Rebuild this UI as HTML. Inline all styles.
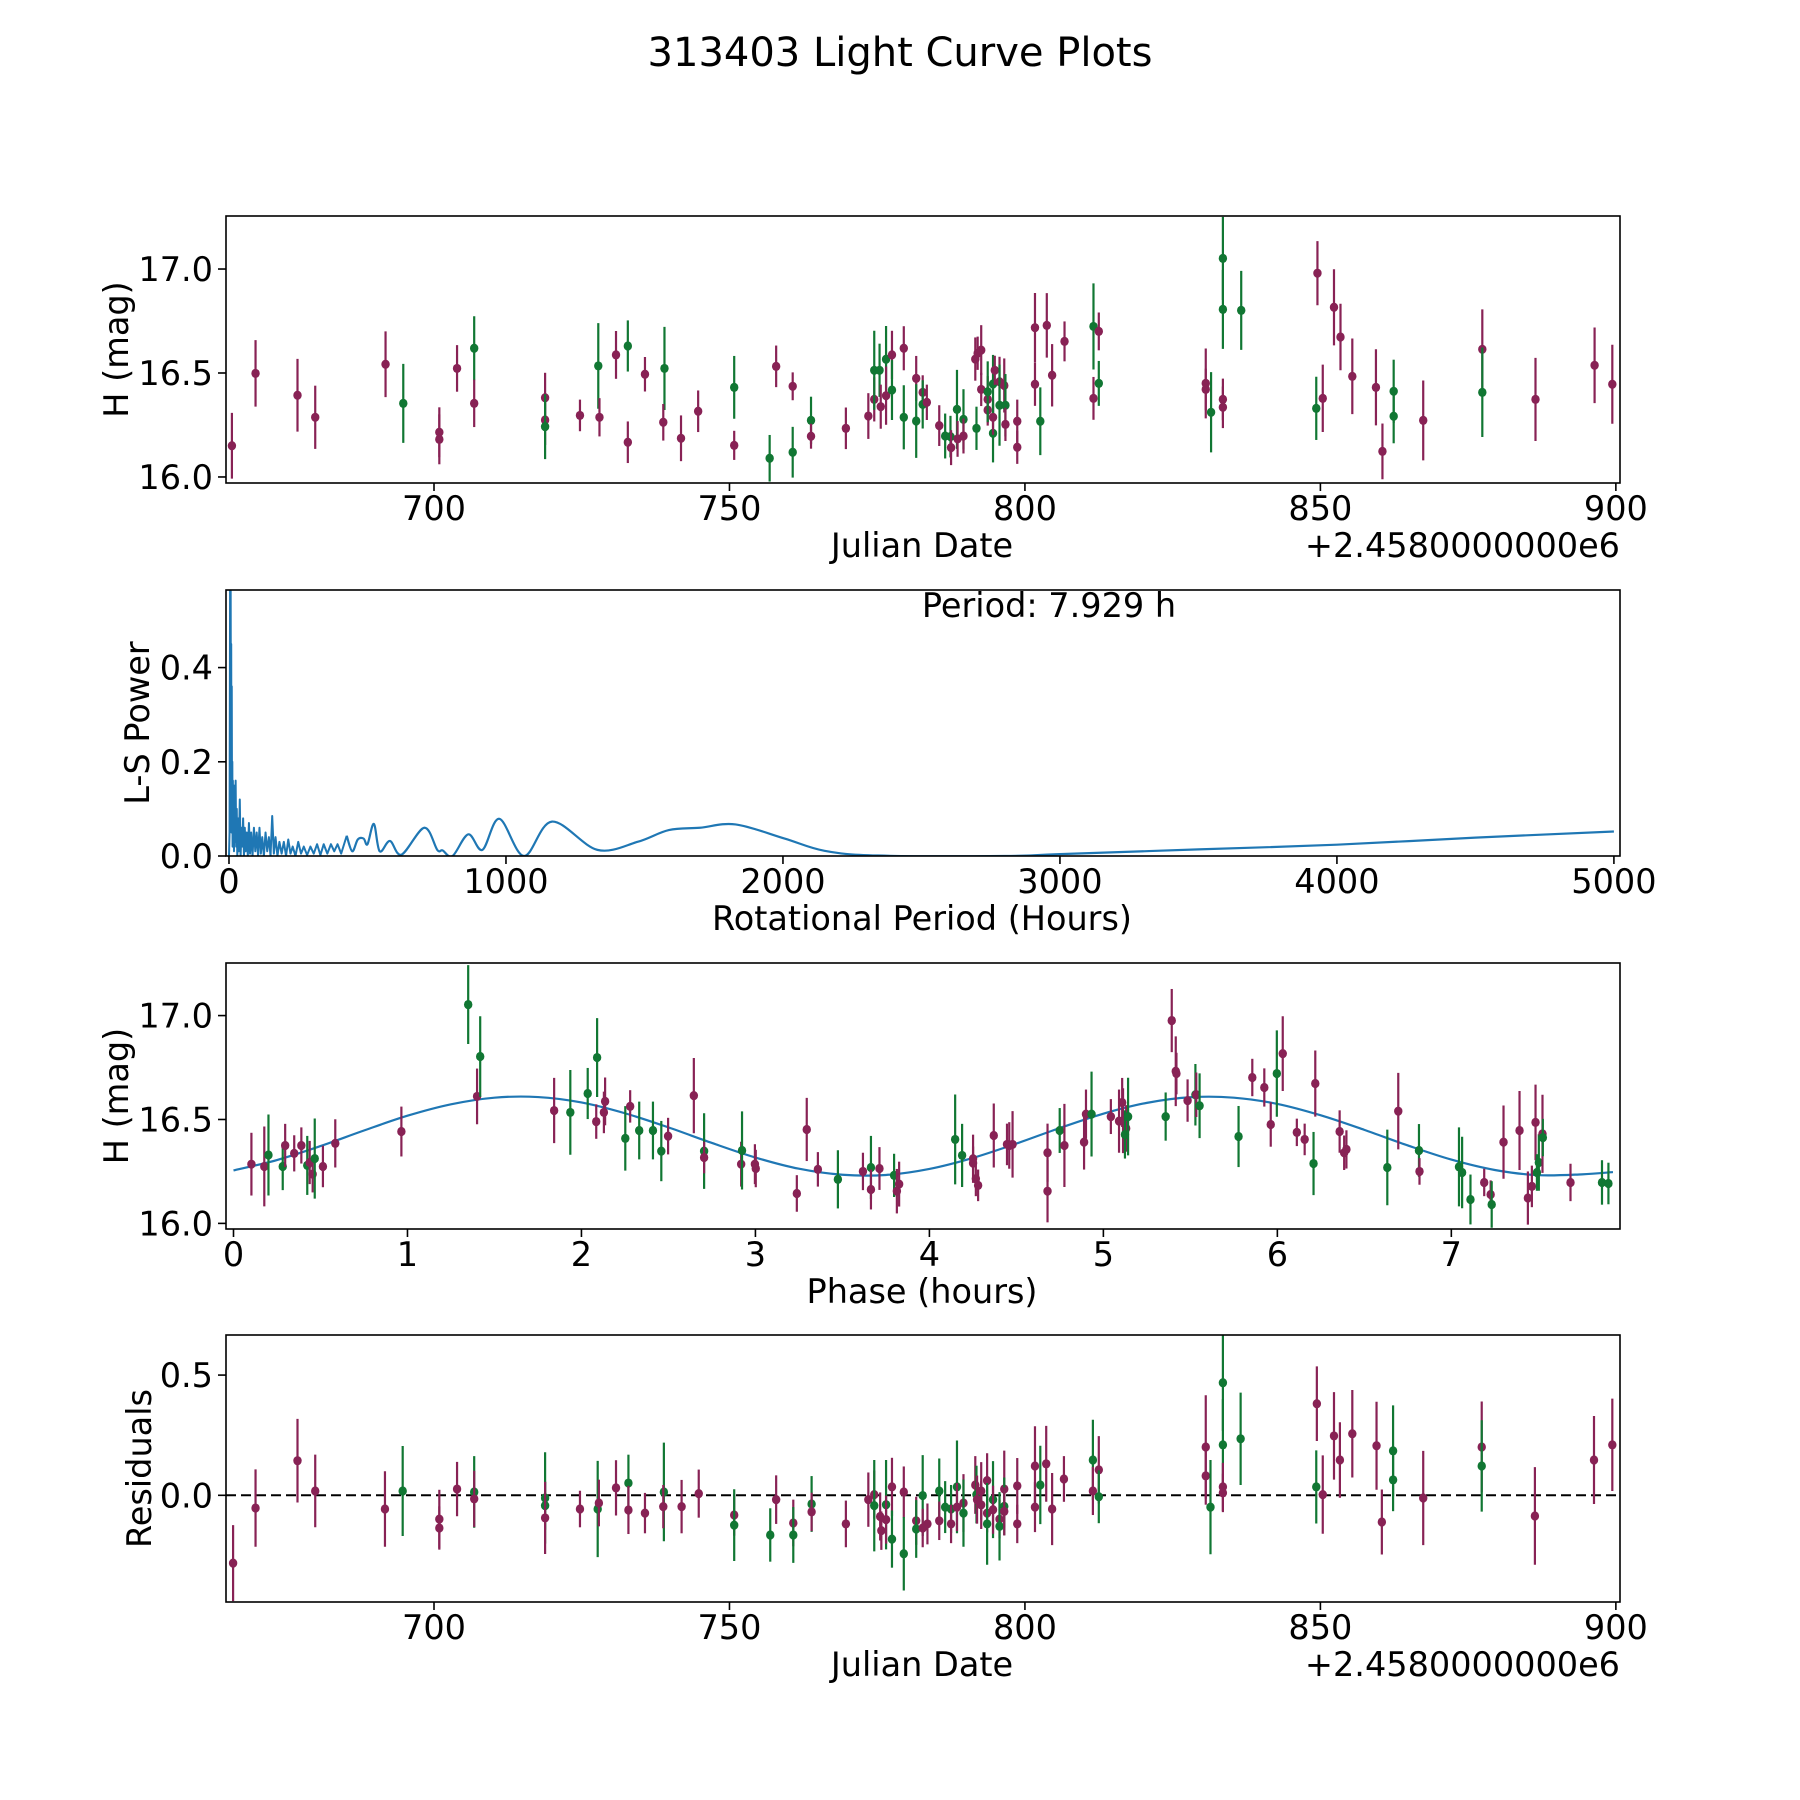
<!DOCTYPE html>
<html><head><meta charset="utf-8"><title>313403 Light Curve Plots</title>
<style>
html,body{margin:0;padding:0;background:#fff;}
svg{display:block;font-family:"DejaVu Sans","Liberation Sans",sans-serif;}
</style></head>
<body>
<svg id="fig" width="1800" height="1800" viewBox="0 0 1800 1800" xmlns="http://www.w3.org/2000/svg">
<rect x="0" y="0" width="1800" height="1800" fill="#fff"/>
<text x="900" y="66" font-size="40" text-anchor="middle" fill="#000">313403 Light Curve Plots</text>
</svg>
<script>
// ---- Panel 1: light curve (Julian date) ----
const lcDays=[665.8,669.8,676.9,679.9,691.8,694.8,700.9,700.9,703.9,706.8,706.8,718.8,718.8,718.8,724.7,727.8,728.0,730.8,732.8,732.8,735.7,739.0,738.8,741.8,744.7,750.8,750.8,756.8,757.9,760.7,760.7,763.8,763.8,769.7,
773.5,774.5,774.5,775.4,775.6,776.5,776.5,777.5,777.5,779.5,779.5,781.6,781.6,782.7,782.7,783.4,785.5,786.5,787.4,787.5,788.5,788.6,789.6,789.6,791.6,791.8,792.0,792.6,792.6,793.7,793.7,793.7,794.6,794.6,794.6,794.9,795.7,795.7,796.5,796.7,796.7,798.7,798.7,801.7,801.7,802.6,803.7,804.6,806.7,811.6,811.6,812.5,812.5,830.6,830.6,831.5,833.5,833.5,833.5,833.5,836.6,849.3,849.5,850.4,852.3,853.4,855.4,859.4,860.5,862.4,862.4,867.4,877.4,877.4,886.4,896.4,899.4];
const lcMags=[16.15,16.498,16.393,16.287,16.542,16.354,16.215,16.181,16.522,16.619,16.354,16.381,16.274,16.242,16.296,16.534,16.287,16.587,16.63,16.167,16.494,16.522,16.263,16.186,16.316,16.431,16.152,16.09,16.532,16.436,16.119,16.272,16.196,16.234,
16.293,16.373,16.513,16.513,16.338,16.566,16.391,16.587,16.418,16.619,16.287,16.474,16.269,16.407,16.349,16.359,16.247,16.197,16.194,16.141,16.325,16.183,16.277,16.197,16.567,16.234,16.595,16.61,16.421,16.373,16.322,16.41,16.21,16.287,16.447,16.513,16.458,16.345,16.44,16.345,16.253,16.268,16.143,16.718,16.446,16.268,16.729,16.489,16.652,16.724,16.378,16.7,16.45,16.45,16.421,16.311,17.051,16.806,16.373,16.335,16.801,16.33,16.98,16.378,16.816,16.673,16.484,16.431,16.123,16.412,16.292,16.272,16.614,16.407,16.373,16.537,16.446];
const lcErrs=[0.158,0.16,0.175,0.152,0.158,0.19,0.12,0.12,0.112,0.154,0.114,0.12,0.12,0.156,0.076,0.206,0.092,0.115,0.123,0.1,0.083,0.2,0.088,0.11,0.1,0.151,0.07,0.112,0.1,0.067,0.122,0.114,0.06,0.1,
0.11,0.106,0.19,0.128,0.106,0.16,0.14,0.116,0.144,0.106,0.154,0.108,0.177,0.082,0.116,0.085,0.098,0.108,0.1,0.084,0.19,0.086,0.145,0.084,0.104,0.104,0.08,0.12,0.08,0.112,0.075,0.146,0.14,0.084,0.14,0.07,0.12,0.195,0.13,0.15,0.08,0.104,0.08,0.167,0.104,0.163,0.155,0.15,0.096,0.207,0.103,0.091,0.108,0.168,0.1,0.193,0.2,0.19,0.1,0.1,0.19,0.152,0.154,0.162,0.183,0.16,0.182,0.183,0.134,0.152,0.13,0.192,0.192,0.215,0.2,0.182,0.19];
const lcBand=[0,0,0,0,0,1,0,0,0,1,0,0,0,1,0,1,0,0,1,0,0,1,0,0,0,1,0,1,0,0,1,1,0,0,
0,0,1,1,0,1,0,0,1,0,1,0,1,0,1,0,0,1,1,0,1,0,1,0,0,1,0,0,0,0,0,1,1,0,1,0,0,1,0,1,0,0,0,0,0,1,0,0,0,1,0,0,1,0,0,1,1,1,0,0,1,1,0,0,0,0,0,0,0,1,1,0,0,1,0,0,0];

// ---- Panel 2: Lomb-Scargle periodogram ----
const lsPeriods=[0,2,4,5,6,7,8,9,10,11,12,13,14,15,17,18,20,22,24,26,28,30,33,36,39,42,45,48,51,54,57,60,64,68,72,76,80,85,90,95,100,105,110,115,120,126,132,138,144,150,156,162,168,175,182,190,198,206,214,222,230,240,250,260,270,282,294,306,318,330,342,355,368,380,392,405,
425,445,465,486,500,523,544,581,623,705,752,771,807,864,915,976,1065,1166,1330,1475,1588,1700,1829,2006,2150,2343,2800,3000,3500,4000,4500,5000];
const lsPower=[0,0.05,0.58,0.1,0.6,0.2,0.45,0.05,0.36,0.08,0.2,0.02,0.16,0.05,0.15,0.01,0.12,0.03,0.16,0.02,0.1,0,0.08,0.01,0.12,0,0.06,0.02,0.08,0,0.06,0.01,0.05,0,0.07,0.005,0.05,0,0.06,0.01,0.05,0,0.06,0.005,0.04,0,0.05,0.01,0.04,0,0.085,0.005,0.04,0,0.03,0.005,0.03,0,0.035,0.005,0.02,0,0.03,0.005,0.02,0.002,0.02,0.005,0.025,0.002,0.025,0.005,0.025,0.01,0.025,0.005,
0.043,0.01,0.035,0.037,0.025,0.068,0.01,0.032,0.003,0.06,0.013,0.012,0,0.046,0.013,0.079,0,0.073,0.013,0.03,0.055,0.06,0.067,0.037,0.011,0.001,0,0.004,0.014,0.024,0.039,0.052];
const bestPeriodLabel="Period: 7.929 h";

// ---- Panel 3: phase-folded light curve ----
const phPhase=[0.103,0.177,0.201,0.283,0.297,0.349,0.39,0.424,0.438,0.455,0.467,0.514,0.585,0.965,1.349,1.4,1.418,1.843,1.936,2.036,2.09,2.085,2.129,2.136,2.252,2.28,2.332,2.411,2.459,2.498,2.646,2.705,2.705,2.918,2.923,2.997,3.002,3.238,3.295,3.359,3.474,3.618,3.664,3.664,3.713,3.797,3.813,3.826,
4.148,4.188,4.251,4.251,4.267,4.28,4.37,4.446,4.459,4.478,4.679,4.679,4.749,4.776,4.889,4.9,4.932,5.043,5.09,5.108,5.113,5.131,5.124,5.142,5.358,5.393,5.416,5.42,5.484,5.529,5.534,5.553,5.777,5.856,5.925,5.962,5.997,6.031,6.112,6.157,6.208,6.218,6.358,6.384,6.397,6.632,6.695,6.814,6.817,7.044,7.062,7.11,7.189,7.226,7.232,7.3,7.392,7.44,7.463,7.484,7.492,7.503,7.524,7.526,7.685,7.866,7.903];
const phMags=[16.285,16.274,16.329,16.274,16.375,16.337,16.375,16.279,16.293,16.237,16.312,16.274,16.385,16.442,17.053,16.611,16.803,16.543,16.534,16.625,16.798,16.49,16.534,16.587,16.409,16.563,16.447,16.447,16.348,16.42,16.615,16.348,16.317,16.285,16.351,16.285,16.264,16.144,16.452,16.26,16.212,16.25,16.269,16.163,16.264,16.231,16.155,16.189,
16.404,16.327,16.311,16.29,16.215,16.183,16.423,16.38,16.375,16.38,16.34,16.155,16.447,16.375,16.391,16.526,16.526,16.514,16.492,16.582,16.494,16.457,16.428,16.514,16.514,16.976,16.732,16.721,16.591,16.619,16.619,16.566,16.418,16.702,16.654,16.476,16.721,16.817,16.438,16.404,16.288,16.673,16.442,16.34,16.356,16.269,16.54,16.351,16.25,16.272,16.245,16.115,16.197,16.139,16.091,16.391,16.447,16.122,16.178,16.486,16.245,16.293,16.431,16.413,16.197,16.197,16.192];
const phErrs=[0.151,0.192,0.195,0.114,0.104,0.087,0.087,0.142,0.104,0.088,0.193,0.1,0.116,0.12,0.19,0.134,0.194,0.157,0.204,0.123,0.19,0.083,0.1,0.115,0.155,0.078,0.139,0.139,0.145,0.088,0.181,0.182,0.076,0.108,0.188,0.096,0.09,0.088,0.152,0.083,0.14,0.09,0.152,0.096,0.103,0.104,0.107,0.108,
0.216,0.152,0.116,0.08,0.084,0.076,0.154,0.1,0.112,0.16,0.14,0.15,0.108,0.2,0.132,0.118,0.204,0.084,0.152,0.118,0.156,0.112,0.116,0.187,0.116,0.152,0.168,0.1,0.102,0.148,0.107,0.156,0.147,0.09,0.092,0.107,0.208,0.18,0.066,0.076,0.152,0.159,0.102,0.083,0.092,0.182,0.184,0.127,0.064,0.19,0.172,0.12,0.066,0.068,0.112,0.176,0.19,0.128,0.1,0.182,0.088,0.136,0.188,0.09,0.09,0.107,0.1];
const phBand=[0,0,1,1,0,0,0,1,0,0,1,0,0,0,1,0,1,0,1,1,1,0,0,0,1,0,1,1,1,0,0,1,0,0,1,0,0,0,0,0,1,0,1,0,0,1,0,0,
1,1,0,0,0,0,0,0,0,0,0,0,1,0,0,0,1,0,0,0,0,0,1,1,1,0,0,0,0,1,0,1,1,0,0,0,1,0,0,0,1,0,0,0,0,1,0,1,0,1,1,1,0,0,1,0,0,0,0,0,1,1,0,1,0,1,1];
// fitted model curve samples (phase hours -> mag)
const modelPhase=[0,0.25,0.5,0.75,1,1.25,1.5,1.75,2,2.25,2.5,2.75,3,3.25,3.5,3.75,4,4.25,4.5,4.75,5,5.25,5.5,5.75,6,6.25,6.5,6.75,7,7.25,7.5,7.75,7.929];
const modelMag=[16.255,16.305,16.372,16.447,16.518,16.573,16.605,16.608,16.582,16.53,16.462,16.387,16.317,16.263,16.234,16.233,16.262,16.315,16.384,16.459,16.528,16.58,16.607,16.605,16.575,16.52,16.45,16.375,16.307,16.257,16.232,16.236,16.247];

// ---- Panel 4: residuals ----
const resDays=[666.0,669.8,676.9,679.9,691.7,694.7,700.9,700.9,703.9,706.8,706.8,718.8,718.8,718.8,724.7,727.7,727.9,730.8,732.9,732.9,735.7,738.9,738.8,741.9,744.8,750.8,750.8,756.9,757.9,760.8,760.8,763.9,763.9,769.7,773.5,774.5,774.5,775.5,775.7,776.5,776.5,777.5,777.5,779.5,779.5,781.6,781.6,
782.7,782.7,783.5,785.5,785.5,786.5,787.5,787.5,788.5,788.5,789.6,789.6,791.6,791.8,791.9,792.6,792.6,793.6,793.6,793.6,794.6,794.6,795.7,795.7,796.5,796.5,796.5,798.7,798.7,801.7,801.7,802.6,803.6,804.6,806.6,811.5,811.5,812.5,812.5,830.6,830.6,831.4,833.5,833.5,833.5,833.5,836.5,849.3,849.4,850.4,852.3,853.3,855.4,859.5,860.4,862.3,862.3,867.4,877.3,877.3,886.3,896.3,899.4];
const resVals=[-0.282,-0.053,0.144,0.018,-0.057,0.018,-0.099,-0.136,0.026,0.014,-0.015,-0.011,-0.043,-0.094,-0.057,-0.057,-0.032,0.031,0.051,-0.061,-0.074,0.014,-0.047,-0.047,0.007,-0.082,-0.124,-0.165,-0.018,-0.115,-0.165,-0.036,-0.069,-0.119,-0.018,0.003,-0.043,-0.088,-0.147,-0.039,-0.101,0.035,-0.182,0.014,-0.243,-0.106,-0.14,
-0.001,-0.136,-0.119,0.018,-0.106,-0.049,-0.057,-0.119,0.035,-0.049,-0.032,-0.074,0.043,0.003,-0.018,0.018,-0.04,0.061,-0.074,-0.119,-0.018,-0.06,-0.099,-0.129,0.026,-0.046,-0.067,0.039,-0.119,0.122,-0.049,0.043,0.131,-0.057,0.068,0.147,0.018,0.106,-0.006,0.201,0.081,-0.049,0.468,0.21,0.035,0.01,0.235,0.035,0.381,0.003,0.247,0.147,0.256,0.206,-0.111,0.185,0.064,-0.011,0.201,0.122,-0.086,0.147,0.21];
const resErrs=[0.158,0.161,0.174,0.151,0.157,0.187,0.122,0.09,0.113,0.149,0.117,0.19,0.1,0.15,0.076,0.2,0.097,0.115,0.118,0.1,0.084,0.205,0.09,0.111,0.1,0.086,0.149,0.111,0.101,0.097,0.116,0.116,0.08,0.097,0.113,0.1,0.19,0.1,0.08,0.186,0.1,0.121,0.119,0.106,0.153,0.1,0.12,
0.168,0.08,0.085,0.135,0.08,0.108,0.1,0.08,0.193,0.1,0.12,0.14,0.12,0.12,0.1,0.12,0.1,0.114,0.08,0.17,0.16,0.1,0.08,0.142,0.16,0.12,0.1,0.116,0.08,0.165,0.104,0.163,0.158,0.15,0.095,0.167,0.1,0.14,0.11,0.215,0.12,0.196,0.2,0.19,0.1,0.08,0.192,0.152,0.155,0.163,0.182,0.157,0.182,0.183,0.135,0.189,0.13,0.196,0.189,0.19,0.203,0.183,0.192];
const resBand=[0,0,0,0,0,1,0,0,0,1,0,1,1,0,0,1,0,0,1,0,0,1,0,0,0,0,1,1,0,0,1,1,0,0,0,0,1,0,0,1,0,0,1,0,1,0,1,
1,0,0,1,0,1,1,0,1,0,0,1,0,1,0,0,0,0,0,1,1,0,0,1,0,1,0,0,0,0,0,1,0,0,0,1,0,0,1,0,0,1,1,1,0,0,1,1,0,0,0,0,0,0,0,1,1,0,0,1,0,0,0];

const xTicksJD=[700,750,800,850,900];
const yTicksH=[16.0,16.5,17.0];
const xTicksLS=[0,1000,2000,3000,4000,5000];
const yTicksLS=[0.0,0.2,0.4];
const xTicksPh=[0,1,2,3,4,5,6,7];
const yTicksRes=[0.0,0.5];

const NS="http://www.w3.org/2000/svg";
const svg=document.getElementById('fig');
const COL=['#882255','#117733'];
const FS=33.5;
function mk(tag,attrs,parent){const e=document.createElementNS(NS,tag);for(const k in attrs)e.setAttribute(k,attrs[k]);(parent||svg).appendChild(e);return e;}
function lin(d0,d1,r0,r1){return v=>r0+(v-d0)*(r1-r0)/(d1-d0);}
function fmt1(v){return v.toFixed(1);}

function makePanel(id,L,R,T,B,xd,yd){
  const g=mk('g',{});
  
  
  const cp=mk('clipPath',{id:'clip-'+id},g);
  mk('rect',{x:L,y:T,width:R-L,height:B-T},cp);
  const plot=mk('g',{'clip-path':'url(#clip-'+id+')'},g);
  
  
  return {g,plot,L,R,T,B,x:lin(xd[0],xd[1],L,R),y:lin(yd[0],yd[1],B,T)};
}
function frame(p){
  const r=mk('rect',{x:p.L,y:p.T,width:p.R-p.L,height:p.B-p.T,fill:'none',stroke:'#000','stroke-width':1.6},p.g);
  
  
}
function xTicks(p,ticks,fmt,name){
  ticks.forEach(t=>{
    const X=p.x(t);
    const l=mk('line',{x1:X,x2:X,y1:p.B,y2:p.B+8,stroke:'#000','stroke-width':1.6},p.g);
    
    
    const tx=mk('text',{x:X,y:p.B+37,'font-size':FS,'text-anchor':'middle'},p.g);
    tx.textContent=fmt(t);
    
    
  });
}
function yTicks(p,ticks,fmt,name){
  ticks.forEach(t=>{
    const Y=p.y(t);
    const l=mk('line',{x1:p.L-8,x2:p.L,y1:Y,y2:Y,stroke:'#000','stroke-width':1.6},p.g);
    
    
    const tx=mk('text',{x:p.L-13,y:Y+12,'font-size':FS,'text-anchor':'end'},p.g);
    tx.textContent=fmt(t);
    
    
  });
}
function label(p,text,x,y,rot,name,anchor){
  const t=mk('text',{x:x,y:y,'font-size':FS,'text-anchor':anchor||'middle'},p.g);
  if(rot)t.setAttribute('transform','rotate(-90 '+x+' '+y+')');
  t.textContent=text;
  
  
}
function errPoints(p,xs,ys,es,bands,name){
  for(let i=0;i<xs.length;i++){
    const X=p.x(xs[i]),Y=p.y(ys[i]),c=COL[bands[i]];
    const l=mk('line',{x1:X,x2:X,y1:p.y(ys[i]-es[i]),y2:p.y(ys[i]+es[i]),stroke:c,'stroke-width':2.2},p.plot);
    
    
    const d=mk('ellipse',{cx:X,cy:Y,rx:4.2,ry:4.6,fill:c},p.plot);
    
    
  }
}
function smoothPath(pts){
  let d='M'+pts[0][0]+','+pts[0][1];
  for(let i=0;i<pts.length-1;i++){
    const p0=pts[Math.max(0,i-1)],p1=pts[i],p2=pts[i+1],p3=pts[Math.min(pts.length-1,i+2)];
    const c1=[p1[0]+(p2[0]-p0[0])/6,p1[1]+(p2[1]-p0[1])/6];
    const c2=[p2[0]-(p3[0]-p1[0])/6,p2[1]-(p3[1]-p1[1])/6];
    d+=' C'+c1[0].toFixed(2)+','+c1[1].toFixed(2)+' '+c2[0].toFixed(2)+','+c2[1].toFixed(2)+' '+p2[0].toFixed(2)+','+p2[1].toFixed(2);
  }
  return d;
}

// Panel 1
const p1=makePanel('light-curve',226,1620,216,483,[664.8,900.7],[15.971,17.255]);
errPoints(p1,lcDays,lcMags,lcErrs,lcBand,'light-curve');
frame(p1);
xTicks(p1,xTicksJD,v=>String(v),'x-axis-jd');
yTicks(p1,yTicksH,fmt1,'y-axis-mag');
label(p1,'Julian Date',922,p1.B+74,false,'x-axis-title');
label(p1,'+2.4580000000e6',1620,p1.B+74,false,'x-axis-offset','end');
label(p1,'H (mag)',128,(p1.T+p1.B)/2,true,'y-axis-title');

// Panel 2
const p2=makePanel('periodogram',226,1620,590,856,[-10.8,5022],[0,0.5647]);
{
  const lowPts=[],hiPts=[];
  for(let i=0;i<lsPeriods.length;i++){
    const pt=[p2.x(lsPeriods[i]),p2.y(lsPower[i])];
    if(lsPeriods[i]<=425)lowPts.push(pt);
    if(lsPeriods[i]>=425)hiPts.push(pt);
  }
  let d='M'+lowPts.map(q=>q[0].toFixed(2)+','+q[1].toFixed(2)).join(' L');
  const l=mk('path',{d:d,fill:'none',stroke:'#1f77b4','stroke-width':2,'stroke-linejoin':'round'},p2.plot);
  
  
  const l2=mk('path',{d:smoothPath(hiPts),fill:'none',stroke:'#1f77b4','stroke-width':2.2},p2.plot);
  
  
}
frame(p2);
xTicks(p2,xTicksLS,v=>String(v),'x-axis-period');
yTicks(p2,yTicksLS,fmt1,'y-axis-power');
label(p2,'Rotational Period (Hours)',922,p2.B+74,false,'x-axis-title');
label(p2,'L-S Power',149,(p2.T+p2.B)/2,true,'y-axis-title');
label(p2,bestPeriodLabel,1049,617,false,'period-annotation');

// Panel 3
const p3=makePanel('phase-curve',226,1620,963,1229,[-0.0431,7.9695],[15.973,17.253]);
{
  const pts=modelPhase.map((v,i)=>[p3.x(v),p3.y(modelMag[i])]);
  const l=mk('path',{d:smoothPath(pts),fill:'none',stroke:'#1f77b4','stroke-width':2.2},p3.plot);
  
  
}
errPoints(p3,phPhase,phMags,phErrs,phBand,'phase');
frame(p3);
xTicks(p3,xTicksPh,v=>String(v),'x-axis-phase');
yTicks(p3,yTicksH,fmt1,'y-axis-mag');
label(p3,'Phase (hours)',922,p3.B+74,false,'x-axis-title');
label(p3,'H (mag)',128,(p3.T+p3.B)/2,true,'y-axis-title');

// Panel 4
const p4=makePanel('residuals',226,1620,1335,1602,[664.8,900.7],[-0.4437,0.6667]);
{
  const z=p4.y(0);
  const l=mk('line',{x1:p4.L,x2:p4.R,y1:z,y2:z,stroke:'#000','stroke-width':2,'stroke-dasharray':'10,5'},p4.plot);
  
  
}
errPoints(p4,resDays,resVals,resErrs,resBand,'residual');
frame(p4);
xTicks(p4,xTicksJD,v=>String(v),'x-axis-jd');
yTicks(p4,yTicksRes,fmt1,'y-axis-residual');
label(p4,'Julian Date',922,p4.B+74,false,'x-axis-title');
label(p4,'+2.4580000000e6',1620,p4.B+74,false,'x-axis-offset','end');
label(p4,'Residuals',151,(p4.T+p4.B)/2,true,'y-axis-title');
</script>
</body></html>
